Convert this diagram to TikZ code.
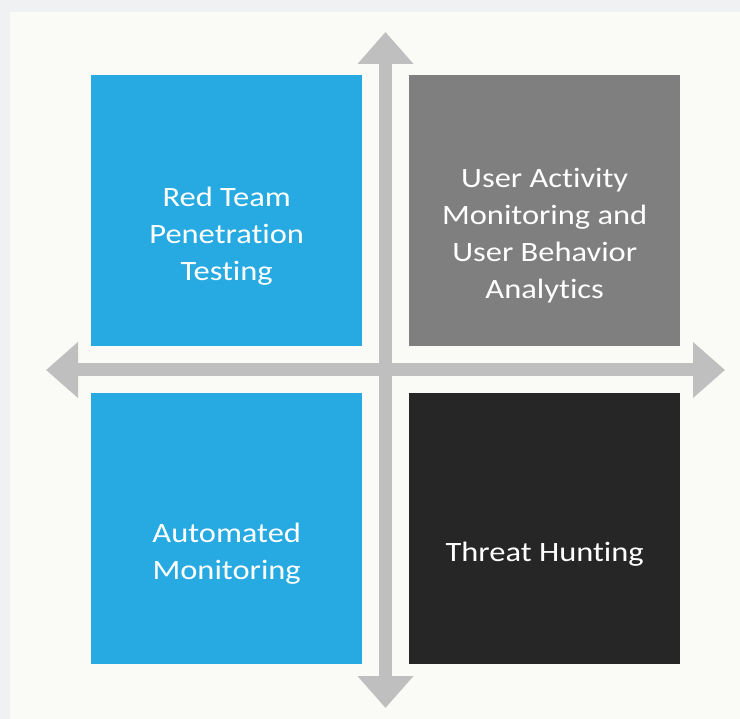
\documentclass[tikz,border=0pt]{standalone}
\usepackage{fontspec}
\setmainfont{Carlito}[FakeStretch=1.16, Ligatures=NoCommon]
\usetikzlibrary{arrows.meta}

\definecolor{pagebg}{HTML}{F0F1F3}
\definecolor{panelbg}{HTML}{FAFAF7}
\definecolor{quadblue}{HTML}{27AAE1}
\definecolor{quadgray}{HTML}{7F7F7F}
\definecolor{quaddark}{HTML}{262626}
\definecolor{axisgray}{HTML}{BFBFBF}

\begin{document}
\begin{tikzpicture}[x=1pt,y=-1pt,
  quad/.style={minimum width=271pt, minimum height=271pt, inner sep=0pt,
    anchor=north west, draw=none},
  quadtext/.style={text=white, align=center, inner sep=0pt,
    font=\fontsize{28}{37}\selectfont},
  axis/.style={draw=axisgray, line width=13pt,
    {Triangle[width=54pt,length=32pt]}-{Triangle[width=54pt,length=32pt]}}]

  % page and panel
  \useasboundingbox (0,0) rectangle (740,719);
  \fill[pagebg] (0,0) rectangle (740,719);
  \fill[panelbg] (10,12) rectangle (740,719);

  % four quadrants
  \node[quad, fill=quadblue] (tl) at (91,75) {};
  \node[quad, fill=quadgray] (tr) at (409,75) {};
  \node[quad, fill=quadblue] (bl) at (91,393) {};
  \node[quad, fill=quaddark] (br) at (409,393) {};

  \node[quadtext] (tltext) at ([yshift=-25pt]tl.center) {Red Team\\Penetration\\Testing};
  \node[quadtext] (trtext) at ([yshift=-25pt]tr.center) {User Activity\\Monitoring and\\User Behavior\\Analytics};
  \node[quadtext] (bltext) at ([yshift=-25pt]bl.center) {Automated\\Monitoring};
  \node[quadtext] (brtext) at ([yshift=-25pt]br.center) {Threat Hunting};

  % axes
  \coordinate (top) at (385.5,32);
  \coordinate (bottom) at (385.5,708);
  \coordinate (left) at (46,370);
  \coordinate (right) at (725,370);
  \draw[axis] (top) -- (bottom);
  \draw[axis] (left) -- (right);
\end{tikzpicture}
\end{document}
